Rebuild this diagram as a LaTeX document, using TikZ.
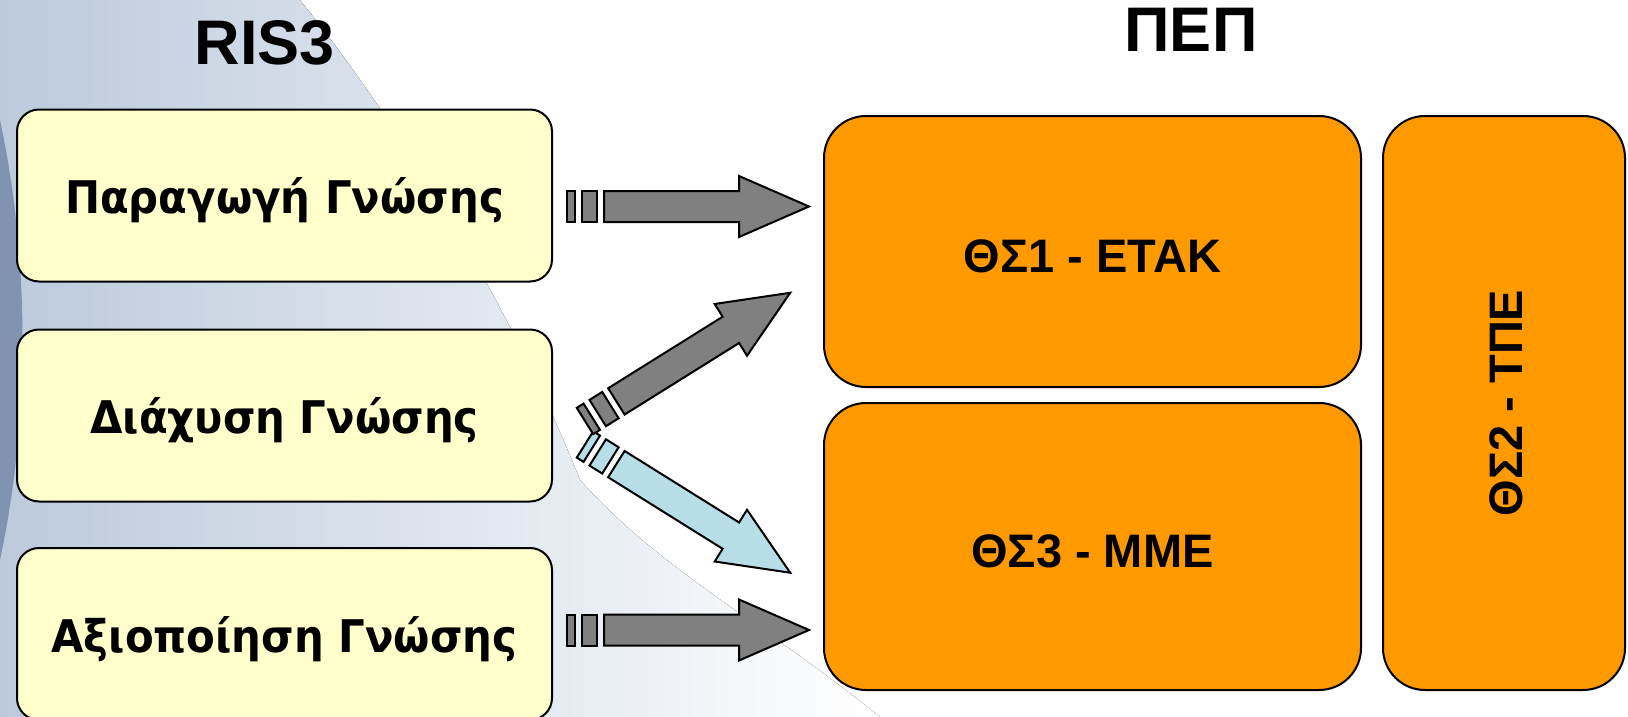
\documentclass[tikz,border=0pt]{standalone}
\usepackage{fontspec}
\setmainfont{Liberation Sans}
\newfontfamily\greekbox{DejaVu Sans}[FakeStretch=0.93]
\newcommand\fsz[1]{\fontsize{#1}{#1}\selectfont}
\definecolor{boxyellow}{RGB}{255,255,204}
\definecolor{boxorange}{RGB}{255,153,0}
\definecolor{arrgray}{RGB}{128,128,128}
\definecolor{arrblue}{RGB}{183,222,230}
\definecolor{bgA}{RGB}{214,222,234}
\definecolor{bgB}{RGB}{188,202,220}
\definecolor{bgD}{RGB}{128,148,178}
\tikzset{
  ybox/.style={draw=black, line width=2pt, fill=boxyellow, rounded corners=22pt,
    minimum width=535pt, minimum height=172pt, inner sep=0pt,
    font=\greekbox\bfseries\fsz{45}, text height=36pt, text depth=0pt},
  obox/.style={draw=black, line width=2pt, fill=boxorange, rounded corners=42pt,
    inner sep=0pt, font=\bfseries\fsz{47}, text depth=0pt},
  title/.style={font=\bfseries\fsz{63}, inner sep=0pt, anchor=base},
  pics/striparrow/.style={code={
    \begin{scope}[draw=black, line width=2pt, line join=miter, fill=#1]
      \filldraw (0,-15.5) rectangle (8,15.5);
      \filldraw (15,-15.5) rectangle (30,15.5);
      \filldraw (37,-15.5) -- (172,-15.5) -- (172,-30.5) -- (242,0)
        -- (172,30.5) -- (172,15.5) -- (37,15.5) -- cycle;
    \end{scope}}}
}
\begin{document}
\begin{tikzpicture}[x=1pt,y=-1pt]
\useasboundingbox (0,0) rectangle (1628,717);
% background
\fill[white] (0,0) rectangle (1628,717);
\fill[left color=bgB, right color=white]
  (0,0) -- (300,0) .. controls (420,150) and (520,330) .. (580,480)
  .. controls (660,570) and (760,620) .. (880,717) -- (0,717) -- cycle;
\fill[bgD] (0,120) .. controls (30,260) and (30,420) .. (0,560) -- cycle;

% titles
\node[title] (ris) at (265,64) {RIS3};
\node[title] (pep) at (1191,52) {ΠΕΠ};

% left boxes
\node[ybox] (p1) at (284.5,195.5) {Παραγωγή Γνώσης};
\node[ybox] (p2) at (284.5,415.5) {Διάχυση Γνώσης};
\node[ybox] (p3) at (284.5,634) {Αξιοποίηση Γνώσης};

% right boxes
\node[obox, minimum width=537pt, minimum height=271pt, text height=41pt]
  (t1) at (1092.5,251.5) {ΘΣ1 - ΕΤΑΚ};
\node[obox, minimum width=537pt, minimum height=287pt, text height=41pt]
  (t3) at (1092.5,546.5) {ΘΣ3 - ΜΜΕ};
\node[obox, rotate=90, minimum width=574pt, minimum height=242pt, text height=36pt]
  (t2) at (1504,403) {ΘΣ2 - ΤΠΕ};

% arrows
\coordinate (a1) at (567,206.5);
\coordinate (a3) at (567,630);
\coordinate (a2u) at (585,421);
\coordinate (a2d) at (585,444.5);
\pic at (a1) {striparrow=arrgray};
\pic at (a3) {striparrow=arrgray};
\pic[rotate=-32] at (a2d) {striparrow=arrblue};
\pic[rotate=32] at (a2u) {striparrow=arrgray};
\end{tikzpicture}
\end{document}
